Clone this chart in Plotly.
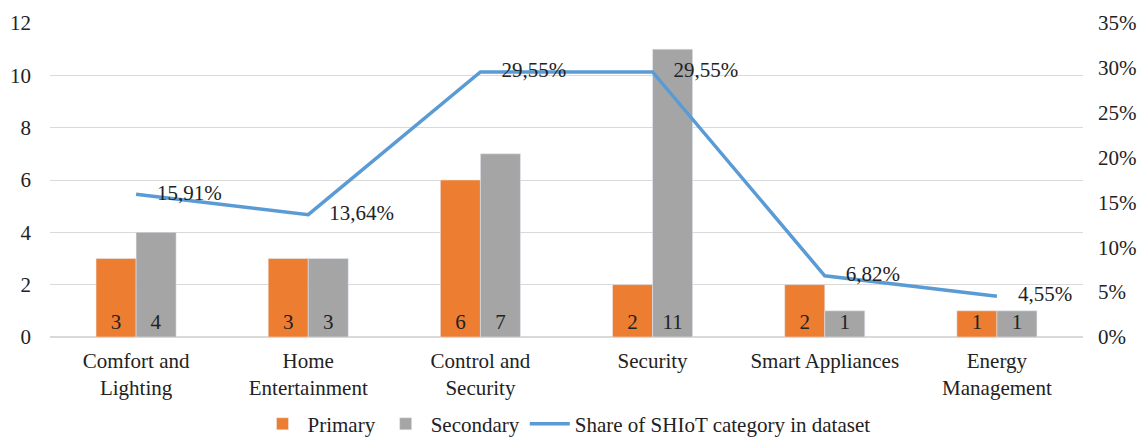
import plotly.graph_objects as go

categories = ["Comfort and<br>Lighting", "Home<br>Entertainment", "Control and<br>Security",
              "Security", "Smart Appliances", "Energy<br>Management"]
primary = [3, 3, 6, 2, 2, 1]
secondary = [4, 3, 7, 11, 1, 1]
share = [0.1591, 0.1364, 0.2955, 0.2955, 0.0682, 0.0455]

left_ticks = [0, 2, 4, 6, 8, 10, 12]
right_ticks = [0, 0.05, 0.10, 0.15, 0.20, 0.25, 0.30, 0.35]

FONT = "Liberation Serif"
SIZE = 21
TXT = "#222222"
NB = "\u00a0"

bar_text = dict(texttemplate="%{y}", textposition="inside", insidetextanchor="start",
                textangle=0, textfont=dict(size=SIZE, color=TXT, family=FONT))

fig = go.Figure()
fig.add_trace(go.Bar(x=categories, y=primary, name="Primary", marker_color="#ED7D31", **bar_text))
fig.add_trace(go.Bar(x=categories, y=secondary, name="Secondary", marker_color="#A5A5A5", **bar_text))
fig.add_trace(go.Scatter(
    x=categories, y=share, name="Share of SHIoT category in dataset", yaxis="y2",
    mode="lines+text", line=dict(color="#5B9BD5", width=3.5),
    texttemplate=NB * 4 + "%{y:.2%}", textposition="middle right",
    textfont=dict(size=SIZE, color=TXT, family=FONT),
))

fig.update_layout(
    width=1143, height=440,
    margin=dict(l=50, r=60, t=23, b=103, autoexpand=False),
    paper_bgcolor="white", plot_bgcolor="white",
    font=dict(family=FONT, size=SIZE, color=TXT),
    separators=",.",
    barmode="group", bargap=0.535, bargroupgap=0,
    uniformtext=dict(minsize=SIZE, mode="show"),
    xaxis=dict(showgrid=False, showline=False, ticks="", automargin=False,
               ticklabelstandoff=9, tickfont=dict(size=SIZE, family=FONT)),
    yaxis=dict(range=[0, 12], tickvals=left_ticks, showgrid=True, gridcolor="#D9D9D9",
               gridwidth=1, zeroline=True, zerolinecolor="#D9D9D9", showline=False,
               ticks="", ticklabelstandoff=18, automargin=False),
    yaxis2=dict(range=[0, 0.35], tickvals=right_ticks, tickformat=".0%", overlaying="y",
                side="right", showgrid=False, zeroline=False, showline=False, ticks="",
                ticklabelstandoff=14, automargin=False),
    legend=dict(orientation="h", x=0.5, xanchor="center", yref="container", y=0.036,
                yanchor="middle", font=dict(size=SIZE, family=FONT), traceorder="normal",
                itemwidth=40),
    showlegend=True,
)

fig.write_html("out.html")
